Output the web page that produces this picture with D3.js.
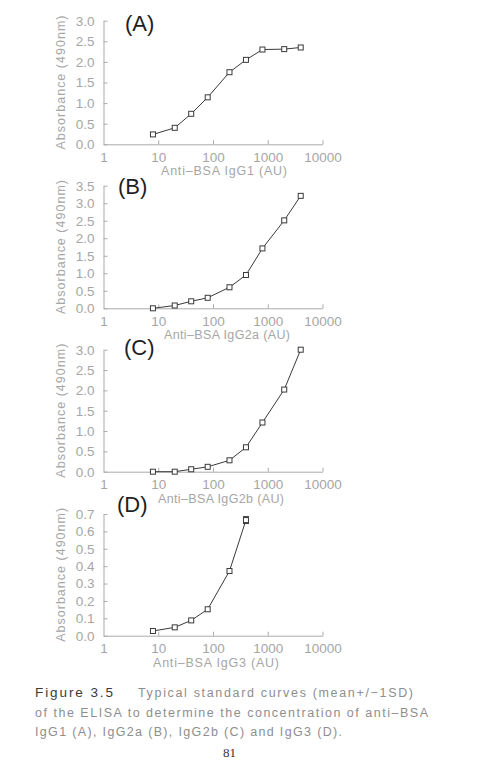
<!DOCTYPE html>
<html>
<head>
<meta charset="utf-8">
<script src="https://cdn.jsdelivr.net/npm/d3@7"></script>
<style>
  html, body { margin: 0; padding: 0; background: #fff; }
  svg { display: block; }
</style>
</head>
<body>
<svg id="chart" width="488" height="761"></svg>
<script>
// ---- data ----
const xTickValues = [1, 10, 100, 1000, 10000];
const xTickLabels = ["1", "10", "100", "1000", "10000"];
const panelLetters = ["(A)", "(B)", "(C)", "(D)"];
const xTitles = ["Anti\u2013BSA IgG1 (AU)", "Anti\u2013BSA IgG2a (AU)", "Anti\u2013BSA IgG2b (AU)", "Anti\u2013BSA IgG3 (AU)"];
const yTitle = "Absorbance (490nm)";
const yMaxes = [3.0, 3.5, 3.0, 0.7];
const ySteps = [0.5, 0.5, 0.5, 0.1];

const concIgG1  = [8, 20, 40, 80, 200, 400, 800, 2000, 4000];
const absIgG1   = [0.24, 0.40, 0.74, 1.14, 1.75, 2.05, 2.30, 2.31, 2.35];
const concIgG2a = [8, 20, 40, 80, 200, 400, 800, 2000, 4000];
const absIgG2a  = [0.00, 0.08, 0.20, 0.30, 0.60, 0.95, 1.71, 2.51, 3.21];
const concIgG2b = [8, 20, 40, 80, 200, 400, 800, 2000, 4000];
const absIgG2b  = [0.00, 0.00, 0.06, 0.12, 0.28, 0.60, 1.21, 2.02, 3.00];
const concIgG3  = [8, 20, 40, 80, 200, 400];
const absIgG3   = [0.027, 0.048, 0.088, 0.152, 0.372, 0.665];
const sdIgG3    = [0, 0, 0, 0, 0, 0.02];

const captionBold = "Figure 3.5";
const captionLines = [
  "Typical standard curves (mean+/\u22121SD)",
  "of the ELISA to determine the concentration of anti\u2013BSA",
  "IgG1 (A), IgG2a (B), IgG2b (C) and IgG3 (D)."
];
const pageNumber = "81";

// ---- layout ----
const series = [
  {x: concIgG1, y: absIgG1, sd: null},
  {x: concIgG2a, y: absIgG2a, sd: null},
  {x: concIgG2b, y: absIgG2b, sd: null},
  {x: concIgG3, y: absIgG3, sd: sdIgG3}
];
const layout = [
  {top: 20.7, bottom: 144.3, letterX: 125, letterY: 31, titleX: 224},
  {top: 185.7, bottom: 308.3, letterX: 118, letterY: 194, titleX: 227},
  {top: 349.7, bottom: 471.7, letterX: 124, letterY: 355, titleX: 221},
  {top: 514, bottom: 635.7, letterX: 117, letterY: 512, titleX: 216}
];
const xLeft = 103.5, xRight = 322.5;

const axisColor = "#ababab";
const textColor = "#a6a6a6";
const dataColor = "#3a3a3a";
const font = "'Liberation Sans', Arial, sans-serif";

const svg = d3.select("#chart");
const x = d3.scaleLog().domain([1, 10000]).range([xLeft, xRight]);

layout.forEach((L, i) => {
  const g = svg.append("g");
  const y = d3.scaleLinear().domain([0, yMaxes[i]]).range([L.bottom, L.top]);
  const yTicks = d3.range(0, yMaxes[i] + ySteps[i] / 2, ySteps[i]);

  // y axis (ticks inward)
  const ya = g.append("g").attr("transform", `translate(${xLeft},0)`)
    .call(d3.axisLeft(y).tickValues(yTicks).tickSizeInner(-4).tickSizeOuter(0)
      .tickPadding(9).tickFormat(d3.format(".1f")));
  // x axis (ticks inward)
  const xa = g.append("g").attr("transform", `translate(0,${L.bottom})`)
    .call(d3.axisBottom(x).tickValues(xTickValues).tickSizeInner(-4).tickSizeOuter(0)
      .tickPadding(10).tickFormat((d, k) => xTickLabels[k]));
  [ya, xa].forEach(a => {
    a.select(".domain").attr("stroke", axisColor).attr("stroke-width", 1);
    a.selectAll(".tick line").attr("stroke", axisColor).attr("stroke-width", 1);
    a.selectAll(".tick text").attr("fill", textColor)
      .style("font-family", font).style("font-size", "13.5px");
  });
  xa.selectAll(".tick text").attr("dy", "0.71em").attr("y", 8);
  xa.selectAll(".tick").filter(d => d === 1).select("line").remove();

  // y title
  g.append("text")
    .attr("transform", `translate(61,${(L.top + L.bottom) / 2}) rotate(-90)`)
    .attr("text-anchor", "middle").attr("dy", "0.35em")
    .attr("fill", textColor).style("font-family", font).style("font-size", "12.5px")
    .attr("textLength", 134).attr("lengthAdjust", "spacing")
    .text(yTitle);

  // x title
  g.append("text")
    .attr("x", L.titleX).attr("y", L.bottom + 31)
    .attr("text-anchor", "middle")
    .attr("fill", textColor).style("font-family", font).style("font-size", "12.5px")
    .attr("textLength", 126).attr("lengthAdjust", "spacing")
    .text(xTitles[i]);

  // panel letter
  g.append("text")
    .attr("x", L.letterX).attr("y", L.letterY)
    .attr("fill", "#1e1e1e").style("font-family", font).style("font-size", "22px")
    .text(panelLetters[i]);

  // data
  const s = series[i];
  const pts = s.x.map((v, k) => ({x: v, y: s.y[k], sd: s.sd ? s.sd[k] : 0}));
  g.append("path").datum(pts)
    .attr("fill", "none").attr("stroke", dataColor).attr("stroke-width", 1)
    .attr("d", d3.line().x(d => x(d.x)).y(d => y(d.y)));

  // error bars
  pts.filter(d => d.sd > 0).forEach(d => {
    const cx = x(d.x);
    const y1 = y(d.y + d.sd), y2 = y(d.y - d.sd);
    g.append("line").attr("x1", cx).attr("x2", cx).attr("y1", y1).attr("y2", y2)
      .attr("stroke", dataColor);
    [y1, y2].forEach(yy => g.append("line")
      .attr("x1", cx - 3).attr("x2", cx + 3).attr("y1", yy).attr("y2", yy)
      .attr("stroke", dataColor));
  });

  g.selectAll("rect.pt").data(pts).enter().append("rect")
    .attr("class", "pt")
    .attr("x", d => x(d.x) - 2.5).attr("y", d => y(d.y) - 2.5)
    .attr("width", 5).attr("height", 5)
    .attr("fill", "#fff").attr("stroke", dataColor).attr("stroke-width", 1);
});

// caption
svg.append("text").attr("x", 35).attr("y", 697)
  .attr("fill", "#3a3a3a").style("font-family", font).style("font-size", "13.5px")
  .attr("textLength", 78).attr("lengthAdjust", "spacing")
  .text(captionBold);
const capPos = [
  {x: 138, y: 697, len: 275},
  {x: 35, y: 717, len: 393},
  {x: 35, y: 736, len: 307}
];
captionLines.forEach((t, k) => {
  svg.append("text").attr("x", capPos[k].x).attr("y", capPos[k].y)
    .attr("fill", "#8e8e8e").style("font-family", font).style("font-size", "12.5px")
    .attr("textLength", capPos[k].len).attr("lengthAdjust", "spacing")
    .text(t);
});
svg.append("text").attr("x", 229.5).attr("y", 757).attr("text-anchor", "middle")
  .attr("fill", "#333").style("font-family", "'Liberation Serif', serif").style("font-size", "13px")
  .text(pageNumber);
</script>
</body>
</html>
